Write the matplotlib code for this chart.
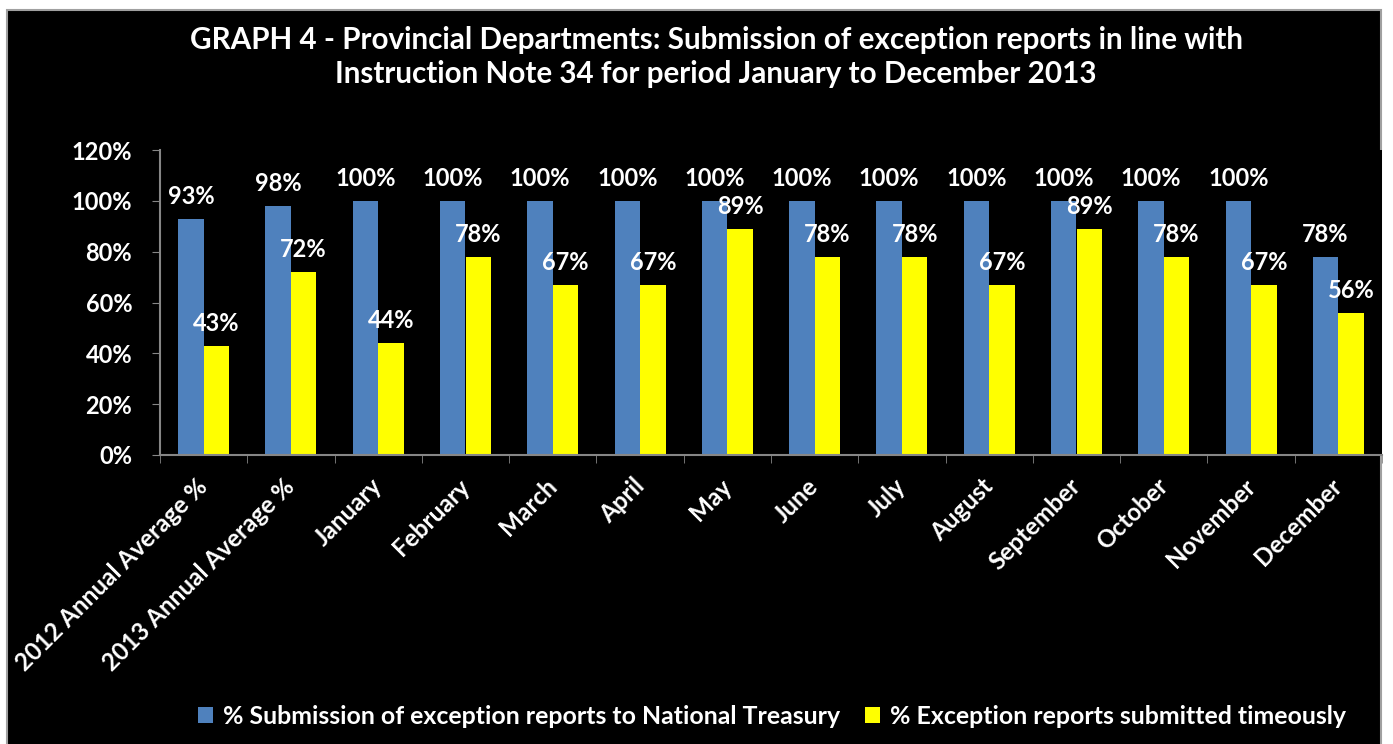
import numpy as np
import matplotlib
matplotlib.use("Agg")
import matplotlib.pyplot as plt
import matplotlib.transforms as mtransforms
from matplotlib.patches import Rectangle

plt.rcParams['font.family'] = ['Lato', 'DejaVu Sans']
plt.rcParams['font.weight'] = 'bold'

categories = ['2012 Annual Average %', '2013 Annual Average %', 'January', 'February',
              'March', 'April', 'May', 'June', 'July', 'August', 'September',
              'October', 'November', 'December']
submission = [93, 98, 100, 100, 100, 100, 100, 100, 100, 100, 100, 100, 100, 78]
timeous = [43, 72, 44, 78, 67, 67, 89, 78, 78, 67, 89, 78, 67, 56]
legend_labels = ['% Submission of exception reports to National Treasury',
                 '% Exception reports submitted timeously']
title = ('GRAPH 4 - Provincial Departments: Submission of exception reports in line with\n'
         'Instruction Note 34 for period January to December 2013')

blue = '#4F81BD'
yellow = '#FFFF00'
grey = '#868686'

fig = plt.figure(figsize=(13.93, 7.44), dpi=100, facecolor='white')
# black chart area with thin grey frame
fig.patches.append(Rectangle((7 / 1393, -0.01), (1381 - 7) / 1393, 1.01 - 10 / 744,
                             transform=fig.transFigure, facecolor='black',
                             edgecolor='#a0a0a0', linewidth=1.5, zorder=-10))

ax = fig.add_axes([160 / 1393, 1 - 455 / 744, (1382 - 160) / 1393, (455 - 150) / 744])
ax.set_facecolor('black')

x = np.arange(len(categories))
w = 0.292
b1 = ax.bar(x - w / 2, np.array(submission) / 100, w, color=blue, label=legend_labels[0])
b2 = ax.bar(x + w / 2, np.array(timeous) / 100, w, color=yellow, label=legend_labels[1])

for rect, v in zip(b1, submission):
    ax.annotate('%d%%' % v, (rect.get_x() + rect.get_width() / 2, rect.get_height()),
                xytext=(0, 8), textcoords='offset points', ha='center', va='bottom',
                color='white', fontsize=17, fontweight='bold')
for rect, v in zip(b2, timeous):
    ax.annotate('%d%%' % v, (rect.get_x() + rect.get_width() / 2, rect.get_height()),
                xytext=(0, 8), textcoords='offset points', ha='center', va='bottom',
                color='white', fontsize=17, fontweight='bold')

ax.set_xlim(-0.5, len(categories) - 0.5)
ax.set_ylim(0, 1.2)
ax.set_yticks(np.arange(0, 1.21, 0.2))
ax.set_yticklabels(['%d%%' % round(t * 100) for t in np.arange(0, 1.21, 0.2)])
ax.set_xticks(x)
ax.set_xticklabels(categories, rotation=45, ha='right', rotation_mode='anchor')
ax.set_xticks(np.arange(-0.5, len(categories), 1), minor=True)
ax.tick_params(axis='x', which='major', length=0, pad=14, labelsize=17.5, colors='white')
ax.tick_params(axis='x', which='minor', length=6, color=grey, direction='out')
ax.tick_params(axis='y', length=6, color=grey, labelsize=17, labelcolor='white', pad=14)
for lab in ax.get_xticklabels() + ax.get_yticklabels():
    lab.set_fontweight('bold')
# nudge rotated category labels a little to the left
shift = mtransforms.ScaledTranslation(-8 / 100, 0, fig.dpi_scale_trans)
for lab in ax.get_xticklabels():
    lab.set_transform(lab.get_transform() + shift)

for s in ['top', 'right']:
    ax.spines[s].set_visible(False)
for s in ['left', 'bottom']:
    ax.spines[s].set_color(grey)
    ax.spines[s].set_linewidth(1.5)

fig.text(0.514, 1 - 57 / 744, title, ha='center', va='center', color='white',
         fontsize=21.3, fontweight='bold', linespacing=1.3)

leg = fig.legend(handles=[b1, b2], labels=legend_labels, loc='center',
                 bbox_to_anchor=(0.554, 1 - 716 / 744), ncol=2, frameon=False,
                 fontsize=17.9, handlelength=0.6, handleheight=0.6, handletextpad=0.4,
                 columnspacing=1.0)
for t in leg.get_texts():
    t.set_color('white')
    t.set_fontweight('bold')

fig.savefig('out.png', dpi=100, facecolor=fig.get_facecolor())
